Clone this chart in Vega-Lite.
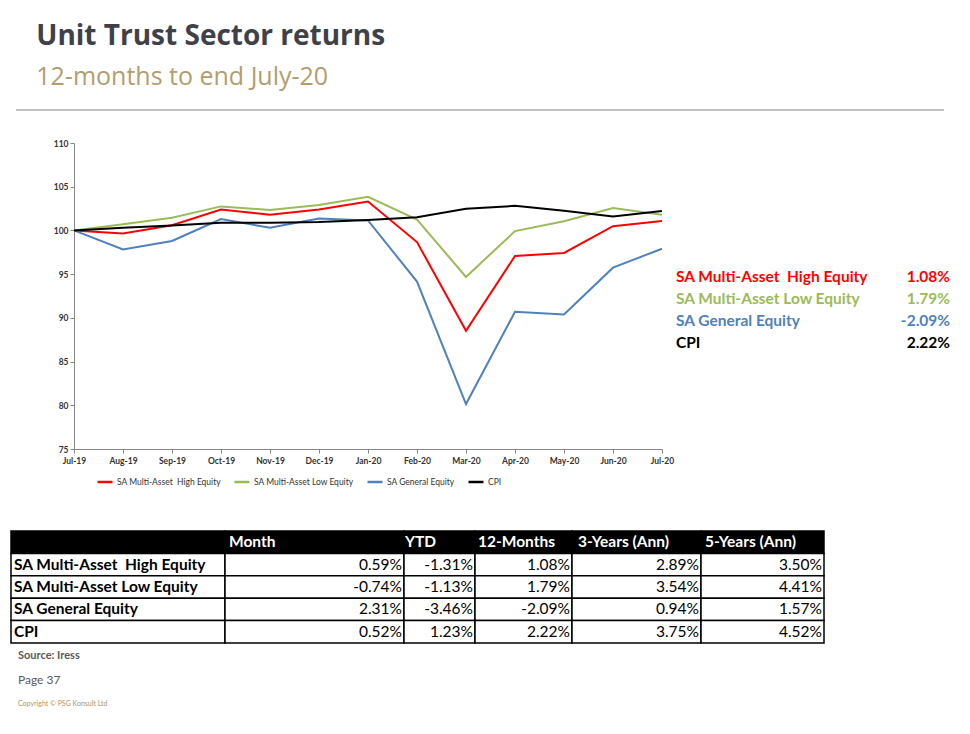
{
  "$schema": "https://vega.github.io/schema/vega-lite/v6.json",
  "background": "white",
  "padding": {"left": 10, "top": 23, "right": 5, "bottom": 5},
  "config": {"font": "Lato", "view": {"stroke": null}},
  "title": {
    "text": "Unit Trust Sector returns",
    "subtitle": "12-months to end July-20",
    "anchor": "start",
    "frame": "bounds",
    "dx": 26,
    "font": "Open Sans",
    "fontSize": 28,
    "fontWeight": "bold",
    "color": "#3f4149",
    "subtitleFont": "Open Sans",
    "subtitleFontSize": 25,
    "subtitleColor": "#b39d6e",
    "subtitlePadding": 14,
    "offset": 19
  },
  "columns": 1,
  "spacing": 0,
  "datasets": {
    "series": [
      {"m": "Jul-19", "s": "SA Multi-Asset\u00a0 High Equity", "v": 100},
      {"m": "Aug-19", "s": "SA Multi-Asset\u00a0 High Equity", "v": 99.66},
      {"m": "Sep-19", "s": "SA Multi-Asset\u00a0 High Equity", "v": 100.6},
      {"m": "Oct-19", "s": "SA Multi-Asset\u00a0 High Equity", "v": 102.4},
      {"m": "Nov-19", "s": "SA Multi-Asset\u00a0 High Equity", "v": 101.8},
      {"m": "Dec-19", "s": "SA Multi-Asset\u00a0 High Equity", "v": 102.4},
      {"m": "Jan-20", "s": "SA Multi-Asset\u00a0 High Equity", "v": 103.3},
      {"m": "Feb-20", "s": "SA Multi-Asset\u00a0 High Equity", "v": 98.67},
      {"m": "Mar-20", "s": "SA Multi-Asset\u00a0 High Equity", "v": 88.52},
      {"m": "Apr-20", "s": "SA Multi-Asset\u00a0 High Equity", "v": 97.07},
      {"m": "May-20", "s": "SA Multi-Asset\u00a0 High Equity", "v": 97.42},
      {"m": "Jun-20", "s": "SA Multi-Asset\u00a0 High Equity", "v": 100.49},
      {"m": "Jul-20", "s": "SA Multi-Asset\u00a0 High Equity", "v": 101.08},
      {"m": "Jul-19", "s": "SA Multi-Asset Low Equity", "v": 100},
      {"m": "Aug-19", "s": "SA Multi-Asset Low Equity", "v": 100.7},
      {"m": "Sep-19", "s": "SA Multi-Asset Low Equity", "v": 101.45},
      {"m": "Oct-19", "s": "SA Multi-Asset Low Equity", "v": 102.75},
      {"m": "Nov-19", "s": "SA Multi-Asset Low Equity", "v": 102.35},
      {"m": "Dec-19", "s": "SA Multi-Asset Low Equity", "v": 102.9},
      {"m": "Jan-20", "s": "SA Multi-Asset Low Equity", "v": 103.84},
      {"m": "Feb-20", "s": "SA Multi-Asset Low Equity", "v": 101.25},
      {"m": "Mar-20", "s": "SA Multi-Asset Low Equity", "v": 94.68},
      {"m": "Apr-20", "s": "SA Multi-Asset Low Equity", "v": 99.92},
      {"m": "May-20", "s": "SA Multi-Asset Low Equity", "v": 101.06},
      {"m": "Jun-20", "s": "SA Multi-Asset Low Equity", "v": 102.55},
      {"m": "Jul-20", "s": "SA Multi-Asset Low Equity", "v": 101.79},
      {"m": "Jul-19", "s": "SA General Equity", "v": 100},
      {"m": "Aug-19", "s": "SA General Equity", "v": 97.83},
      {"m": "Sep-19", "s": "SA General Equity", "v": 98.8},
      {"m": "Oct-19", "s": "SA General Equity", "v": 101.3},
      {"m": "Nov-19", "s": "SA General Equity", "v": 100.3},
      {"m": "Dec-19", "s": "SA General Equity", "v": 101.37},
      {"m": "Jan-20", "s": "SA General Equity", "v": 101.14},
      {"m": "Feb-20", "s": "SA General Equity", "v": 94.15},
      {"m": "Mar-20", "s": "SA General Equity", "v": 80.14},
      {"m": "Apr-20", "s": "SA General Equity", "v": 90.69},
      {"m": "May-20", "s": "SA General Equity", "v": 90.38},
      {"m": "Jun-20", "s": "SA General Equity", "v": 95.74},
      {"m": "Jul-20", "s": "SA General Equity", "v": 97.91},
      {"m": "Jul-19", "s": "CPI", "v": 100},
      {"m": "Aug-19", "s": "CPI", "v": 100.3},
      {"m": "Sep-19", "s": "CPI", "v": 100.57},
      {"m": "Oct-19", "s": "CPI", "v": 100.87},
      {"m": "Nov-19", "s": "CPI", "v": 100.87},
      {"m": "Dec-19", "s": "CPI", "v": 100.95},
      {"m": "Jan-20", "s": "CPI", "v": 101.2},
      {"m": "Feb-20", "s": "CPI", "v": 101.5},
      {"m": "Mar-20", "s": "CPI", "v": 102.47},
      {"m": "Apr-20", "s": "CPI", "v": 102.81},
      {"m": "May-20", "s": "CPI", "v": 102.24},
      {"m": "Jun-20", "s": "CPI", "v": 101.6},
      {"m": "Jul-20", "s": "CPI", "v": 102.22}
    ],
    "summary": [
      {"k": 1, "s": "SA Multi-Asset\u00a0 High Equity", "r": "1.08%"},
      {"k": 2, "s": "SA Multi-Asset Low Equity", "r": "1.79%"},
      {"k": 3, "s": "SA General Equity", "r": "-2.09%"},
      {"k": 4, "s": "CPI", "r": "2.22%"}
    ],
    "cells": [
      {"r": 0, "c": "Sector", "v": ""},
      {"r": 0, "c": "Month", "v": "Month"},
      {"r": 0, "c": "YTD", "v": "YTD"},
      {"r": 0, "c": "12M", "v": "12-Months"},
      {"r": 0, "c": "3Y", "v": "3-Years (Ann)"},
      {"r": 0, "c": "5Y", "v": "5-Years (Ann)"},
      {"r": 1, "c": "Sector", "v": "SA Multi-Asset\u00a0 High Equity"},
      {"r": 1, "c": "Month", "v": "0.59%"},
      {"r": 1, "c": "YTD", "v": "-1.31%"},
      {"r": 1, "c": "12M", "v": "1.08%"},
      {"r": 1, "c": "3Y", "v": "2.89%"},
      {"r": 1, "c": "5Y", "v": "3.50%"},
      {"r": 2, "c": "Sector", "v": "SA Multi-Asset Low Equity"},
      {"r": 2, "c": "Month", "v": "-0.74%"},
      {"r": 2, "c": "YTD", "v": "-1.13%"},
      {"r": 2, "c": "12M", "v": "1.79%"},
      {"r": 2, "c": "3Y", "v": "3.54%"},
      {"r": 2, "c": "5Y", "v": "4.41%"},
      {"r": 3, "c": "Sector", "v": "SA General Equity"},
      {"r": 3, "c": "Month", "v": "2.31%"},
      {"r": 3, "c": "YTD", "v": "-3.46%"},
      {"r": 3, "c": "12M", "v": "-2.09%"},
      {"r": 3, "c": "3Y", "v": "0.94%"},
      {"r": 3, "c": "5Y", "v": "1.57%"},
      {"r": 4, "c": "Sector", "v": "CPI"},
      {"r": 4, "c": "Month", "v": "0.52%"},
      {"r": 4, "c": "YTD", "v": "1.23%"},
      {"r": 4, "c": "12M", "v": "2.22%"},
      {"r": 4, "c": "3Y", "v": "3.75%"},
      {"r": 4, "c": "5Y", "v": "4.52%"}
    ],
    "footer": [
      {"i": 1, "t": "Source: Iress"},
      {"i": 2, "t": "Page 37"},
      {"i": 3, "t": "Copyright © PSG Konsult Ltd"}
    ]
  },
  "concat": [
    {
      "spacing": 0,
      "bounds": "flush",
      "hconcat": [
        {"width": 5, "height": 2, "data": {"values": []}, "mark": "point"},
        {
          "width": 928,
          "height": 2,
          "data": {"values": [{"a": 1}]},
          "mark": {"type": "rule", "color": "#c0c0c0", "strokeWidth": 2},
          "encoding": {
            "x": {"datum": 0, "type": "quantitative", "scale": {"domain": [0, 1]}, "axis": null},
            "x2": {"datum": 1},
            "y": {"datum": 0.5, "type": "quantitative", "scale": {"domain": [0, 1]}, "axis": null}
          }
        }
      ]
    },
    {"width": 1, "height": 28, "data": {"values": []}, "mark": "point"},
    {
      "hconcat": [
        {"width": 49, "height": 1, "data": {"values": []}, "mark": "point"},
        {
          "width": 588,
          "height": 306,
          "data": {"name": "series"},
          "mark": {"type": "line", "strokeWidth": 2},
          "encoding": {
            "x": {"field": "m", "type": "ordinal", "sort": null, "scale": {"type": "point", "padding": 0},
              "axis": {"title": null, "labelAngle": 0, "labelFontSize": 8.5, "labelFontWeight": "bold", "labelColor": "#333333", "domainColor": "#868686", "tickColor": "#868686", "tickSize": 4, "labelPadding": 3, "grid": false}},
            "y": {"field": "v", "type": "quantitative", "scale": {"domain": [75, 110], "nice": false, "zero": false},
              "axis": {"title": null, "values": [75, 80, 85, 90, 95, 100, 105, 110], "labelFontSize": 8.5, "labelFontWeight": "bold", "labelColor": "#333333", "domainColor": "#868686", "tickColor": "#868686", "tickSize": 4, "grid": false}},
            "color": {"field": "s", "type": "nominal",
              "scale": {"domain": ["SA Multi-Asset\u00a0 High Equity", "SA Multi-Asset Low Equity", "SA General Equity", "CPI"], "range": ["#ff0000", "#9bbb59", "#4f81bd", "#000000"]},
              "legend": {"orient": "none", "legendX": 22, "legendY": 330, "title": null, "direction": "horizontal", "symbolType": "stroke", "symbolStrokeWidth": 2.5, "symbolSize": 225, "labelFontSize": 8.5, "labelColor": "#333333", "columnPadding": 8, "labelOffset": 3}}
          }
        },
        {
          "width": 274,
          "height": 306,
          "data": {"name": "summary"},
          "encoding": {
            "y": {"field": "k", "type": "quantitative", "axis": null, "scale": {"domain": [-5.09, 8.82], "reverse": true, "nice": false, "zero": false}},
            "x": {"datum": 0, "type": "quantitative", "scale": {"domain": [0, 1]}, "axis": null},
            "color": {"field": "s", "type": "nominal", "legend": null,
              "scale": {"domain": ["SA Multi-Asset\u00a0 High Equity", "SA Multi-Asset Low Equity", "SA General Equity", "CPI"], "range": ["#ff0000", "#9bbb59", "#4f81bd", "#000000"]}}
          },
          "layer": [
            {"mark": {"type": "text", "align": "left", "baseline": "middle", "fontSize": 15.5, "fontWeight": "bold"},
             "encoding": {"text": {"field": "s"}}},
            {"mark": {"type": "text", "align": "right", "baseline": "middle", "fontSize": 15.5, "fontWeight": "bold"},
             "encoding": {"x": {"datum": 1, "type": "quantitative"}, "text": {"field": "r"}}}
          ]
        }
      ],
      "spacing": 14,
      "bounds": "flush",
      "resolve": {"scale": {"color": "independent"}, "legend": {"color": "independent"}}
    },
    {"width": 1, "height": 43, "data": {"values": []}, "mark": "point"},
    {
      "data": {"name": "cells"},
      "spacing": 0,
      "bounds": "flush",
      "hconcat": [
        {
          "width": 214, "height": 112,
          "transform": [{"filter": "datum.c === 'Sector'"}],
          "encoding": {
            "y": {"field": "r", "type": "ordinal", "axis": null, "scale": {"paddingInner": 0, "paddingOuter": 0}},
            "x": {"datum": 0, "type": "quantitative", "scale": {"domain": [0, 1]}, "axis": null}
          },
          "layer": [
            {"mark": {"type": "rect", "stroke": "black", "strokeWidth": 1.5},
             "encoding": {"x2": {"datum": 1}, "fill": {"condition": {"test": "datum.r === 0", "value": "black"}, "value": "white"}}},
            {"transform": [{"filter": "datum.r > 0"}],
             "mark": {"type": "text", "align": "left", "baseline": "middle", "dx": 3, "fontSize": 15.5, "fontWeight": "bold", "color": "black"},
             "encoding": {"text": {"field": "v"}}}
          ]
        },
        {
          "width": 179, "height": 112,
          "transform": [{"filter": "datum.c === 'Month'"}],
          "encoding": {
            "y": {"field": "r", "type": "ordinal", "axis": null, "scale": {"paddingInner": 0, "paddingOuter": 0}},
            "x": {"datum": 0, "type": "quantitative", "scale": {"domain": [0, 1]}, "axis": null}
          },
          "layer": [
            {"mark": {"type": "rect", "stroke": "black", "strokeWidth": 1.5},
             "encoding": {"x2": {"datum": 1}, "fill": {"condition": {"test": "datum.r === 0", "value": "black"}, "value": "white"}}},
            {"transform": [{"filter": "datum.r === 0"}],
             "mark": {"type": "text", "align": "left", "baseline": "middle", "dx": 4, "fontSize": 15.5, "fontWeight": "bold", "color": "white"},
             "encoding": {"text": {"field": "v"}}},
            {"transform": [{"filter": "datum.r > 0"}],
             "mark": {"type": "text", "align": "right", "baseline": "middle", "dx": -2, "fontSize": 15.5, "color": "black"},
             "encoding": {"x": {"datum": 1, "type": "quantitative"}, "text": {"field": "v"}}}
          ]
        },
        {
          "width": 71, "height": 112,
          "transform": [{"filter": "datum.c === 'YTD'"}],
          "encoding": {
            "y": {"field": "r", "type": "ordinal", "axis": null, "scale": {"paddingInner": 0, "paddingOuter": 0}},
            "x": {"datum": 0, "type": "quantitative", "scale": {"domain": [0, 1]}, "axis": null}
          },
          "layer": [
            {"mark": {"type": "rect", "stroke": "black", "strokeWidth": 1.5},
             "encoding": {"x2": {"datum": 1}, "fill": {"condition": {"test": "datum.r === 0", "value": "black"}, "value": "white"}}},
            {"transform": [{"filter": "datum.r === 0"}],
             "mark": {"type": "text", "align": "left", "baseline": "middle", "dx": 1, "fontSize": 15.5, "fontWeight": "bold", "color": "white"},
             "encoding": {"text": {"field": "v"}}},
            {"transform": [{"filter": "datum.r > 0"}],
             "mark": {"type": "text", "align": "right", "baseline": "middle", "dx": -2, "fontSize": 15.5, "color": "black"},
             "encoding": {"x": {"datum": 1, "type": "quantitative"}, "text": {"field": "v"}}}
          ]
        },
        {
          "width": 97, "height": 112,
          "transform": [{"filter": "datum.c === '12M'"}],
          "encoding": {
            "y": {"field": "r", "type": "ordinal", "axis": null, "scale": {"paddingInner": 0, "paddingOuter": 0}},
            "x": {"datum": 0, "type": "quantitative", "scale": {"domain": [0, 1]}, "axis": null}
          },
          "layer": [
            {"mark": {"type": "rect", "stroke": "black", "strokeWidth": 1.5},
             "encoding": {"x2": {"datum": 1}, "fill": {"condition": {"test": "datum.r === 0", "value": "black"}, "value": "white"}}},
            {"transform": [{"filter": "datum.r === 0"}],
             "mark": {"type": "text", "align": "left", "baseline": "middle", "dx": 3, "fontSize": 15.5, "fontWeight": "bold", "color": "white"},
             "encoding": {"text": {"field": "v"}}},
            {"transform": [{"filter": "datum.r > 0"}],
             "mark": {"type": "text", "align": "right", "baseline": "middle", "dx": -2, "fontSize": 15.5, "color": "black"},
             "encoding": {"x": {"datum": 1, "type": "quantitative"}, "text": {"field": "v"}}}
          ]
        },
        {
          "width": 129, "height": 112,
          "transform": [{"filter": "datum.c === '3Y'"}],
          "encoding": {
            "y": {"field": "r", "type": "ordinal", "axis": null, "scale": {"paddingInner": 0, "paddingOuter": 0}},
            "x": {"datum": 0, "type": "quantitative", "scale": {"domain": [0, 1]}, "axis": null}
          },
          "layer": [
            {"mark": {"type": "rect", "stroke": "black", "strokeWidth": 1.5},
             "encoding": {"x2": {"datum": 1}, "fill": {"condition": {"test": "datum.r === 0", "value": "black"}, "value": "white"}}},
            {"transform": [{"filter": "datum.r === 0"}],
             "mark": {"type": "text", "align": "left", "baseline": "middle", "dx": 6, "fontSize": 15.5, "fontWeight": "bold", "color": "white"},
             "encoding": {"text": {"field": "v"}}},
            {"transform": [{"filter": "datum.r > 0"}],
             "mark": {"type": "text", "align": "right", "baseline": "middle", "dx": -2, "fontSize": 15.5, "color": "black"},
             "encoding": {"x": {"datum": 1, "type": "quantitative"}, "text": {"field": "v"}}}
          ]
        },
        {
          "width": 123, "height": 112,
          "transform": [{"filter": "datum.c === '5Y'"}],
          "encoding": {
            "y": {"field": "r", "type": "ordinal", "axis": null, "scale": {"paddingInner": 0, "paddingOuter": 0}},
            "x": {"datum": 0, "type": "quantitative", "scale": {"domain": [0, 1]}, "axis": null}
          },
          "layer": [
            {"mark": {"type": "rect", "stroke": "black", "strokeWidth": 1.5},
             "encoding": {"x2": {"datum": 1}, "fill": {"condition": {"test": "datum.r === 0", "value": "black"}, "value": "white"}}},
            {"transform": [{"filter": "datum.r === 0"}],
             "mark": {"type": "text", "align": "left", "baseline": "middle", "dx": 4, "fontSize": 15.5, "fontWeight": "bold", "color": "white"},
             "encoding": {"text": {"field": "v"}}},
            {"transform": [{"filter": "datum.r > 0"}],
             "mark": {"type": "text", "align": "right", "baseline": "middle", "dx": -2, "fontSize": 15.5, "color": "black"},
             "encoding": {"x": {"datum": 1, "type": "quantitative"}, "text": {"field": "v"}}}
          ]
        }
      ]
    },
    {
      "width": 300,
      "height": 72,
      "data": {"name": "footer"},
      "encoding": {
        "y": {"field": "i", "type": "ordinal", "axis": null, "scale": {"type": "point", "padding": 0.5}},
        "x": {"datum": 0, "type": "quantitative", "scale": {"domain": [0, 1]}, "axis": null},
        "text": {"field": "t"}
      },
      "layer": [
        {"transform": [{"filter": "datum.i === 1"}], "mark": {"type": "text", "align": "left", "baseline": "middle", "dx": 7, "fontSize": 11, "fontWeight": "bold", "color": "#595959"}},
        {"transform": [{"filter": "datum.i === 2"}], "mark": {"type": "text", "align": "left", "baseline": "middle", "dx": 7, "fontSize": 12, "color": "#595959"}},
        {"transform": [{"filter": "datum.i === 3"}], "mark": {"type": "text", "align": "left", "baseline": "middle", "dx": 7, "fontSize": 7, "color": "#a8966c"}}
      ]
    }
  ]
}
